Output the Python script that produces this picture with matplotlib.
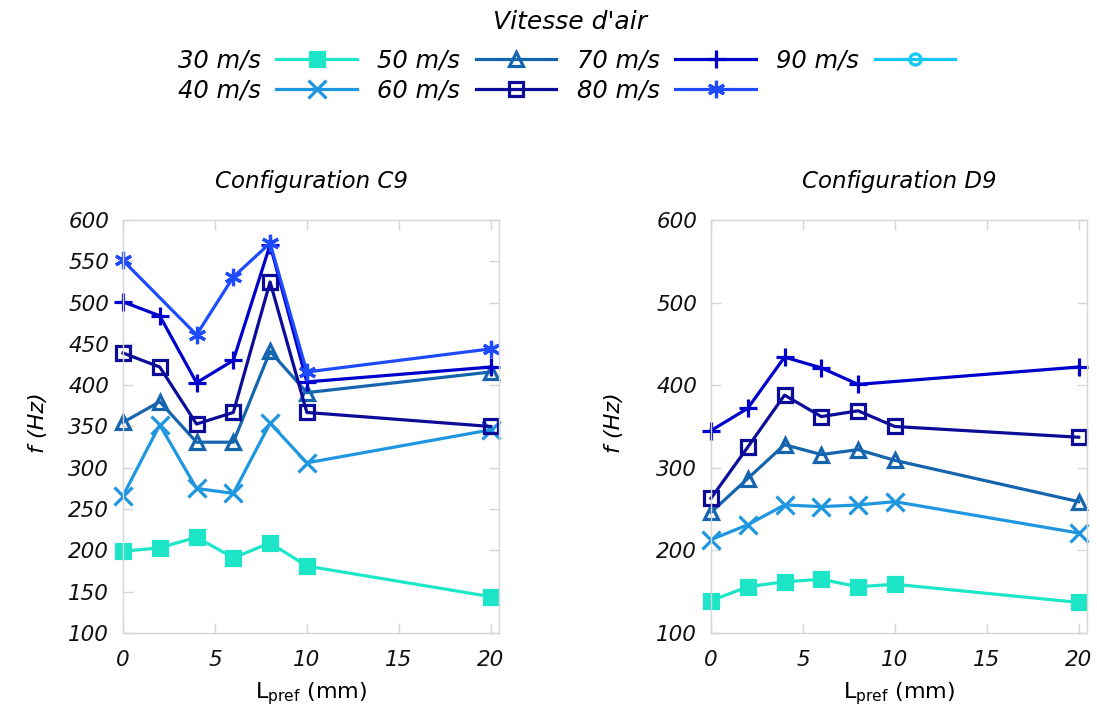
import numpy as np
import matplotlib.pyplot as plt

# air speeds and styles
speeds = ['30 m/s', '40 m/s', '50 m/s', '60 m/s', '70 m/s', '80 m/s', '90 m/s']
colors = ['#1de6c8', '#1e96e0', '#1565ae', '#0c0c98', '#0000cc', '#1e4bff', '#14c8f5']
markers = ['s', 'x', '^', 's', '+', (6, 2, 0), 'o']
filled = [True, True, False, False, True, True, False]

# Configuration C9
c9_x = {
    '30 m/s': [0, 2, 4, 6, 8, 10, 20],
    '40 m/s': [0, 2, 4, 6, 8, 10, 20],
    '50 m/s': [0, 2, 4, 6, 8, 10, 20],
    '60 m/s': [0, 2, 4, 6, 8, 10, 20],
    '70 m/s': [0, 2, 4, 6, 8, 10, 20],
    '80 m/s': [0, 4, 6, 8, 10, 20],
    '90 m/s': [],
}
c9_f = {
    '30 m/s': [199, 203, 216, 191, 209, 181, 144],
    '40 m/s': [266, 352, 275, 269, 354, 306, 346],
    '50 m/s': [355, 380, 331, 331, 441, 391, 416],
    '60 m/s': [439, 422, 353, 367, 525, 367, 350],
    '70 m/s': [501, 484, 403, 430, 570, 404, 422],
    '80 m/s': [551, 461, 531, 572, 416, 444],
    '90 m/s': [],
}

# Configuration D9
d9_x = {
    '30 m/s': [0, 2, 4, 6, 8, 10, 20],
    '40 m/s': [0, 2, 4, 6, 8, 10, 20],
    '50 m/s': [0, 2, 4, 6, 8, 10, 20],
    '60 m/s': [0, 2, 4, 6, 8, 10, 20],
    '70 m/s': [0, 2, 4, 6, 8, 20],
    '80 m/s': [],
    '90 m/s': [],
}
d9_f = {
    '30 m/s': [139, 156, 162, 165, 156, 159, 137],
    '40 m/s': [213, 231, 255, 253, 255, 259, 221],
    '50 m/s': [246, 287, 328, 316, 322, 309, 259],
    '60 m/s': [263, 325, 388, 362, 369, 350, 337],
    '70 m/s': [345, 372, 434, 421, 401, 422],
    '80 m/s': [],
    '90 m/s': [],
}

grey = '#d6d6d6'

fig = plt.figure(figsize=(10.97, 7.15), dpi=100)
ax1 = fig.add_axes([0.1121, 0.1147, 0.3428, 0.5776])
ax2 = fig.add_axes([0.6481, 0.1147, 0.3428, 0.5776])


def draw(ax, xs, fs, title, yticks, ylab_x):
    for i, s in enumerate(speeds):
        face = colors[i] if filled[i] else 'none'
        ms = 10 if markers[i] in ('s', '^') else 12.5
        if markers[i] == 'o':
            ms = 8
        ax.plot(xs[s], fs[s], color=colors[i], lw=2.3, marker=markers[i],
                ms=ms, mfc=face, mec=colors[i], mew=2.3, label=s, clip_on=False)
    ax.set_xlim(0, 20.45)
    ax.set_ylim(100, 600)
    ax.set_xticks([0, 5, 10, 15, 20])
    ax.set_yticks(yticks)
    for sp in ax.spines.values():
        sp.set_color(grey)
        sp.set_linewidth(1.0)
    ax.tick_params(direction='in', length=7.5, width=1.0, color=grey,
                   top=True, right=True, labelsize=15.5, labelcolor='#111111')
    ax.tick_params(axis='x', pad=12)
    ax.tick_params(axis='y', pad=10)
    for lab in ax.get_xticklabels() + ax.get_yticklabels():
        lab.set_fontstyle('italic')
    ax.set_title(title, fontsize=16.5, fontstyle='italic', pad=23)
    ax.set_ylabel('f (Hz)', fontsize=16, fontstyle='italic')
    ax.yaxis.set_label_coords(ylab_x, 0.51)
    ax.set_xlabel(r'L$_{\mathrm{pref}}$ (mm)', fontsize=16)
    ax.xaxis.set_label_coords(0.5, -0.115)


draw(ax1, c9_x, c9_f, 'Configuration C9', np.arange(100, 601, 50), -0.2)
draw(ax2, d9_x, d9_f, 'Configuration D9', np.arange(100, 601, 100), -0.231)

handles, labels = ax1.get_legend_handles_labels()
fig.legend(handles, labels, loc='upper center', bbox_to_anchor=(0.5164, 0.963),
           ncol=4, markerfirst=False, frameon=False, handlelength=3.3,
           handletextpad=0.65, columnspacing=0.85, labelspacing=0.25,
           prop={'size': 17.5, 'style': 'italic'})
fig.text(0.52, 1 - 22 / 715, "Vitesse d'air", fontsize=18, fontstyle='italic',
         ha='center', va='center')

fig.savefig('out.png', dpi=100)
